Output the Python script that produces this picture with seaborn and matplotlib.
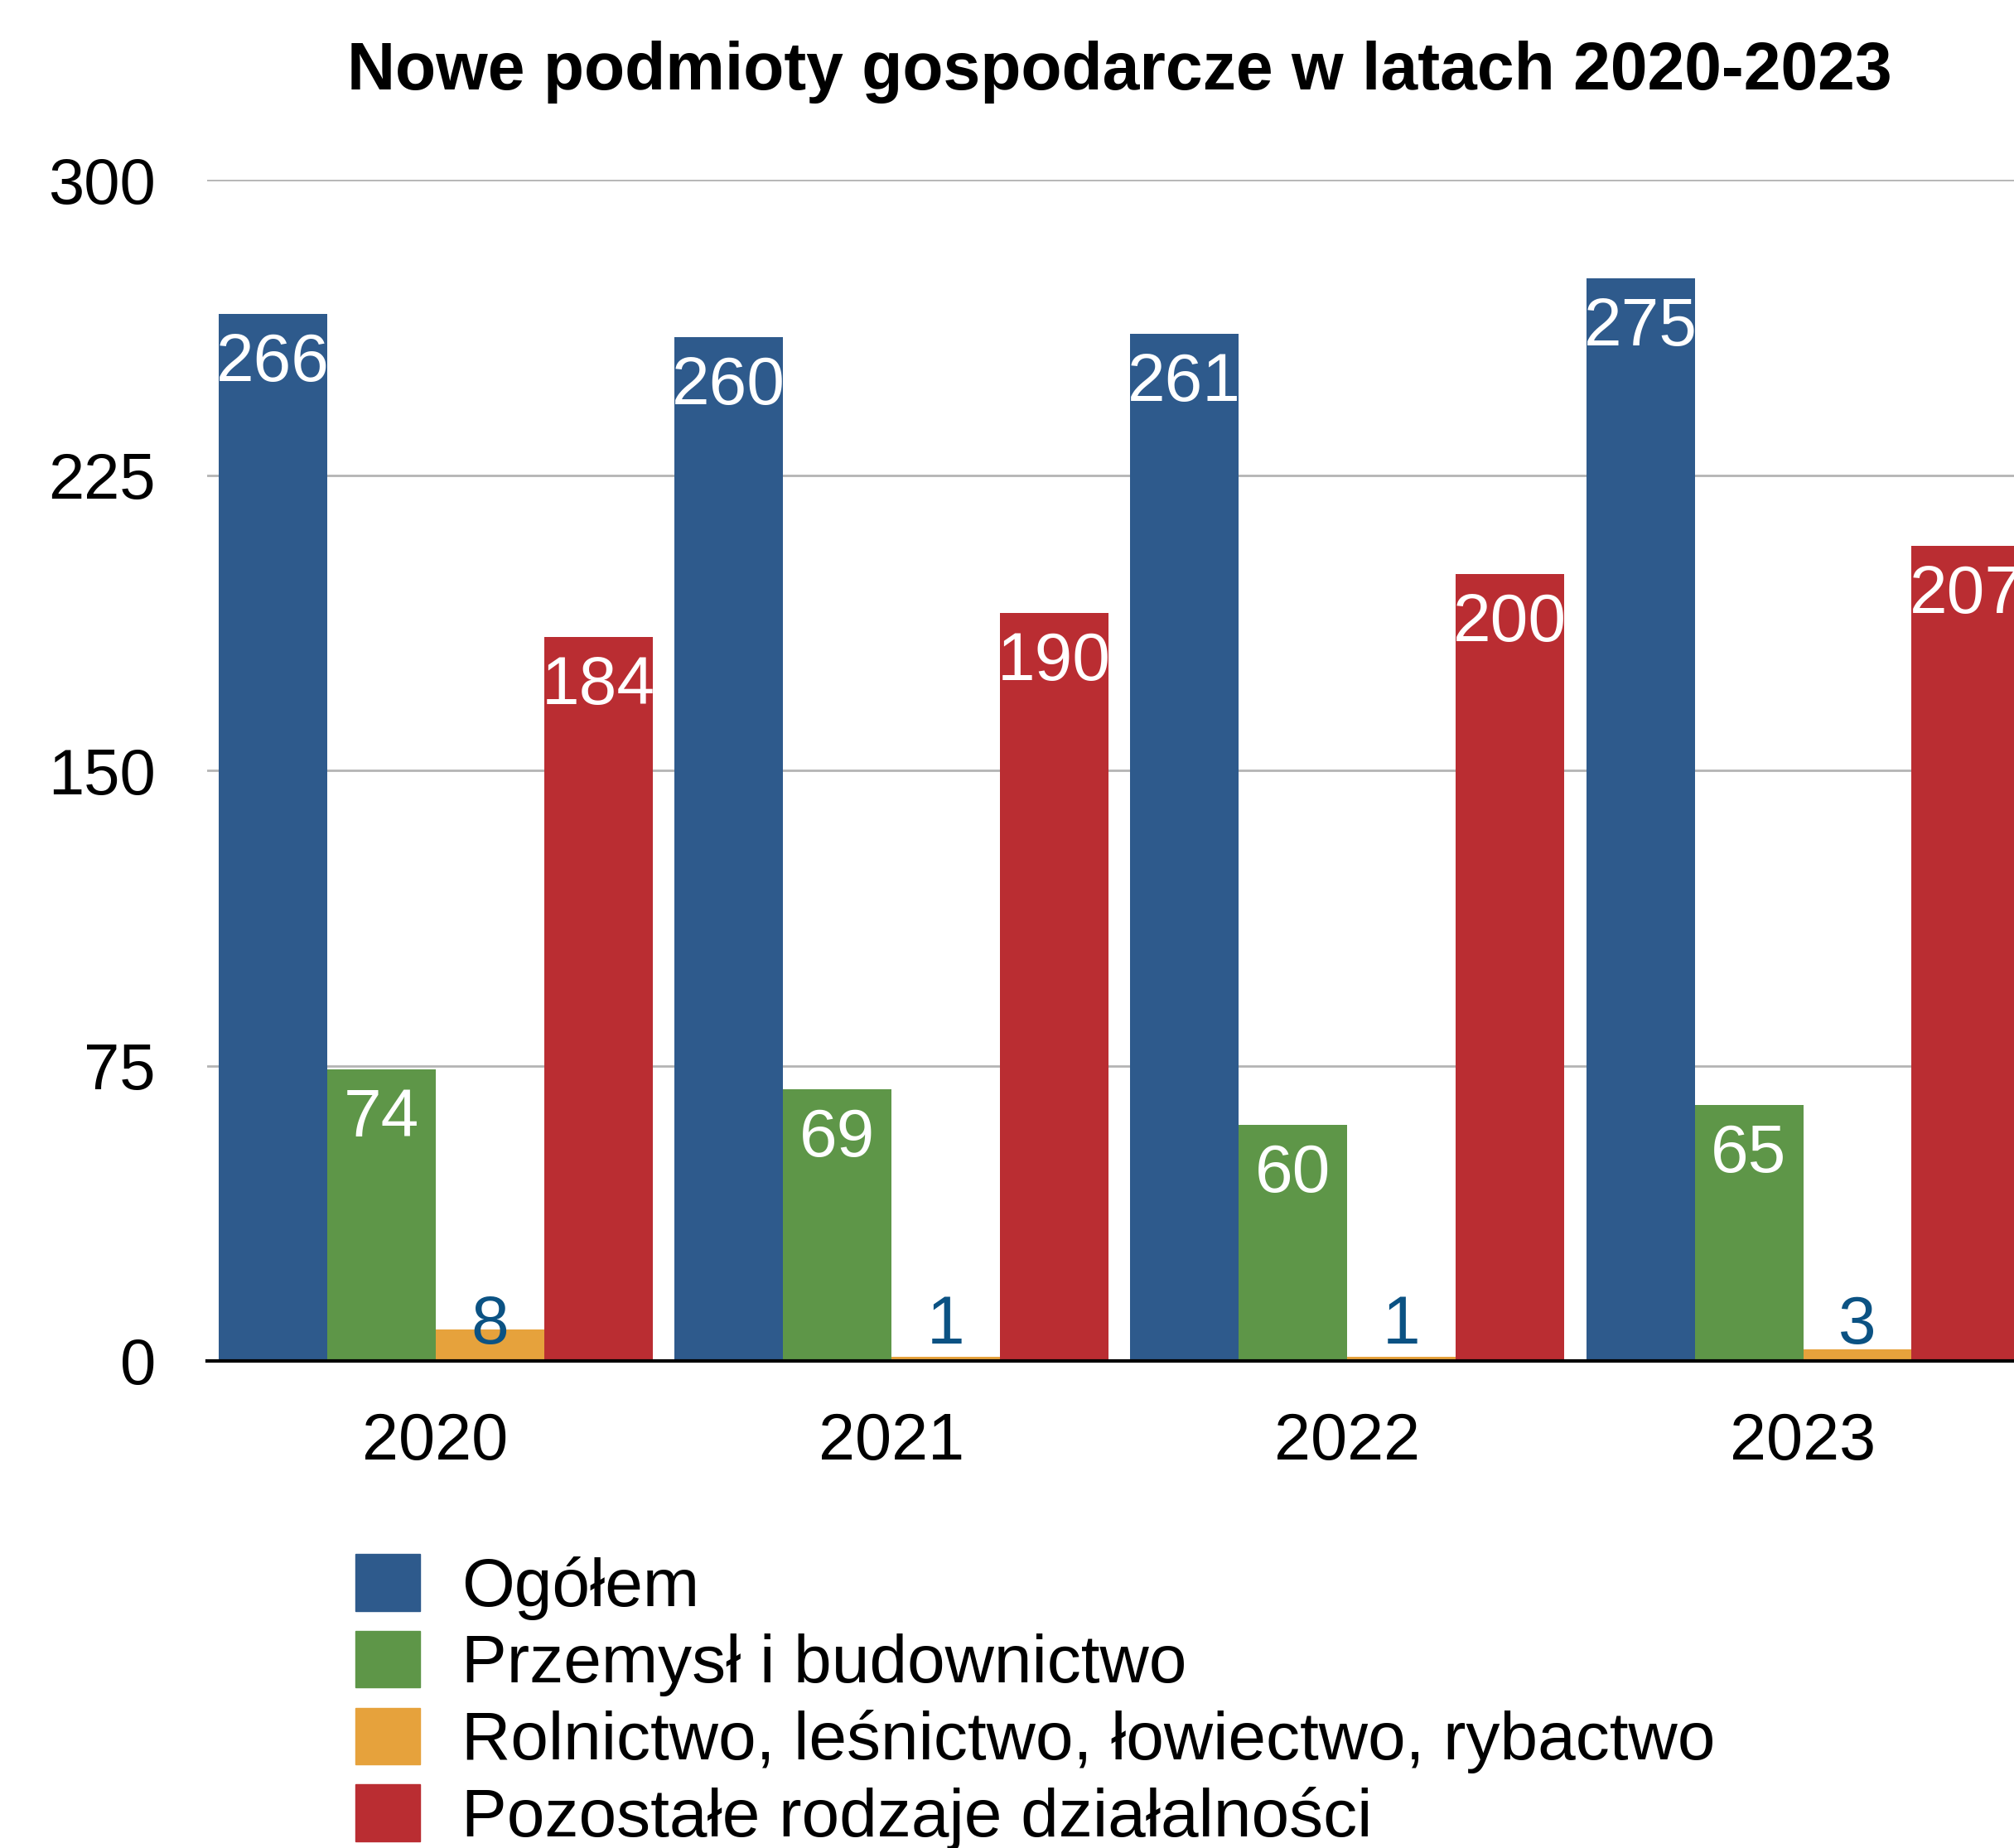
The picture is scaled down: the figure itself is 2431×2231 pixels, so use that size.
import pandas as pd
import matplotlib
matplotlib.use("Agg")
import matplotlib.pyplot as plt
import seaborn as sns

# dane
lata = ["2020", "2021", "2022", "2023"]
serie = [
    "Ogółem",
    "Przemysł i budownictwo",
    "Rolnictwo, leśnictwo, łowiectwo, rybactwo",
    "Pozostałe rodzaje działalności",
]
ogolem = [266, 260, 261, 275]
przemysl = [74, 69, 60, 65]
rolnictwo = [8, 1, 1, 3]
pozostale = [184, 190, 200, 207]
kolory = ["#2E5A8C", "#5E9648", "#E6A23C", "#BA2D32"]
y_ticks = [0, 75, 150, 225, 300]

wartosci = [ogolem, przemysl, rolnictwo, pozostale]
rows = []
for s, vals in zip(serie, wartosci):
    for rok, v in zip(lata, vals):
        rows.append({"Rok": rok, "Seria": s, "Wartosc": v})
df = pd.DataFrame(rows)

sns.set_theme(style="white")
plt.rcParams["font.family"] = ["Liberation Sans", "DejaVu Sans"]
plt.rcParams["text.color"] = "black"
plt.rcParams["axes.titlecolor"] = "black"

fig = plt.figure(figsize=(24.31, 22.31), dpi=100)
ax = fig.add_axes([0.103, 0.2636, 0.9055, 0.639])

sns.barplot(
    data=df, x="Rok", y="Wartosc", hue="Seria",
    order=lata, hue_order=serie, palette=kolory,
    width=0.952, gap=0, linewidth=0, saturation=1,
    legend=True, ax=ax, zorder=3,
)

ax.set_xlim(-0.5, 3.5)
ax.set_ylim(0, 300)
ax.set_yticks(y_ticks)
ax.yaxis.grid(True, color="#b4b4b4", linewidth=2, zorder=0)
ax.set_axisbelow(True)
for s in ["left", "right", "top"]:
    ax.spines[s].set_visible(False)
ax.spines["bottom"].set_color("black")
ax.spines["bottom"].set_linewidth(3)
ax.spines["bottom"].set_zorder(5)
ax.tick_params(axis="both", length=0, labelsize=56, colors="black")
ax.tick_params(axis="y", pad=45)
ax.tick_params(axis="x", pad=44, labelsize=57)
ax.set_xlabel("")
ax.set_ylabel("")

# etykiety wartości
for i, cont in enumerate(ax.containers):
    for bar in cont:
        h = bar.get_height()
        xc = bar.get_x() + bar.get_width() / 2
        if serie[i].startswith("Rolnictwo"):
            ax.annotate(f"{h:.0f}", xy=(xc, 0), xytext=(0, 21),
                        textcoords="offset pixels", ha="center", va="baseline",
                        fontsize=59, color="#0b5283", zorder=6)
        else:
            ax.annotate(f"{h:.0f}", xy=(xc, h), xytext=(0, -22),
                        textcoords="offset pixels", ha="center", va="top",
                        fontsize=59, color="white", zorder=6)

ax.set_title("Nowe podmioty gospodarcze w latach 2020-2023",
             fontsize=58, fontweight="bold", pad=79, color="black")

ax.get_legend().remove()
handles = [plt.Rectangle((0, 0), 1, 1, color=c) for c in kolory]
leg = fig.legend(handles, serie, loc="upper left", bbox_to_anchor=(0.1765, 0.159),
                 frameon=False, fontsize=59, borderpad=0, borderaxespad=0,
                 handlelength=0.95, handleheight=0.91, handletextpad=0.61,
                 labelspacing=0.16)
for t in leg.get_texts():
    t.set_color("black")

fig.savefig("out.png", dpi=100)
